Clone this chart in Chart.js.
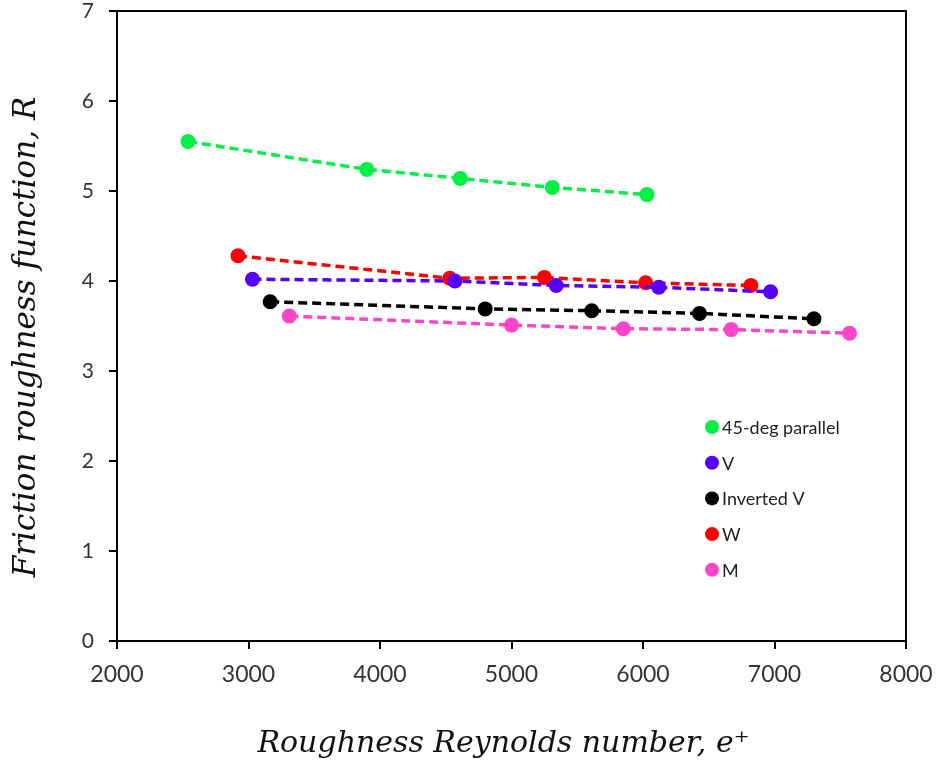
<!DOCTYPE html>
<html>
<head>
<meta charset="utf-8">
<script src="https://cdn.jsdelivr.net/npm/chart.js"></script>
<style>
  html, body { margin: 0; padding: 0; background: #fff; }
  #wrap { width: 937px; height: 765px; }
</style>
</head>
<body>
<div id="wrap"><canvas id="chart" width="937" height="765"></canvas></div>
<script>
// roughness Reynolds number (x) and roughness function (y) for each rib layout
const labels = ['45-deg parallel', 'V', 'Inverted V', 'W', 'M'];
const colors = ['#00F044', '#5500FF', '#000000', '#FF0000', '#FF44CC'];

const parallelX = [2540, 3900, 4610, 5310, 6030];
const parallelY = [5.55, 5.24, 5.14, 5.04, 4.96];
const vX = [3030, 4570, 5340, 6120, 6970];
const vY = [4.02, 4.00, 3.95, 3.93, 3.88];
const invVX = [3165, 4800, 5610, 6430, 7300];
const invVY = [3.77, 3.69, 3.67, 3.64, 3.58];
const wX = [2920, 4530, 5250, 6020, 6820];
const wY = [4.28, 4.03, 4.04, 3.98, 3.95];
const mX = [3310, 5000, 5850, 6670, 7570];
const mY = [3.61, 3.51, 3.47, 3.46, 3.42];

const xTicks = [2000, 3000, 4000, 5000, 6000, 7000, 8000];
const yTicks = [0, 1, 2, 3, 4, 5, 6, 7];

const xTitle = 'Roughness Reynolds number, e\u207A';
const yTitle = 'Friction roughness function, R';

const seriesX = [parallelX, vX, invVX, wX, mX];
const seriesY = [parallelY, vY, invVY, wY, mY];

const toPoints = (xs, ys) => xs.map((x, i) => ({ x: x, y: ys[i] }));

const datasets = labels.map((label, i) => ({
  label: label,
  data: toPoints(seriesX[i], seriesY[i]),
  showLine: true,
  borderColor: colors[i],
  backgroundColor: colors[i],
  borderWidth: 3.5,
  borderDash: [9, 5],
  pointRadius: 7.5,
  pointHoverRadius: 7.5,
  pointBorderWidth: 0,
  fill: false,
  tension: 0
}));

// outline the whole plot area
const frame = {
  id: 'frame',
  afterDatasetsDraw(chart) {
    const a = chart.chartArea;
    const ctx = chart.ctx;
    ctx.save();
    ctx.strokeStyle = '#000';
    ctx.lineWidth = 2;
    ctx.strokeRect(a.left, a.top, a.right - a.left, a.bottom - a.top);
    ctx.restore();
  }
};

// axis titles in italic serif
const axisTitles = {
  id: 'axisTitles',
  afterDraw(chart) {
    const ctx = chart.ctx;
    const a = chart.chartArea;
    ctx.save();
    ctx.fillStyle = '#111';
    ctx.font = 'italic 30px "DejaVu Serif", serif';
    ctx.textAlign = 'center';
    ctx.textBaseline = 'alphabetic';
    ctx.fillText(xTitle, (a.left + a.right) / 2 - 8, 752);

    ctx.font = 'italic 31px "DejaVu Serif", serif';
    ctx.translate(35, (a.top + a.bottom) / 2 + 11);
    ctx.rotate(-Math.PI / 2);
    ctx.fillText(yTitle, 0, 0);
    ctx.restore();
  }
};

// legend sitting inside the plot, lower right
const innerLegend = {
  id: 'innerLegend',
  afterDraw(chart) {
    const ctx = chart.ctx;
    const a = chart.chartArea;
    const x0 = a.left + 595;
    let y = a.top + 416;
    ctx.save();
    ctx.font = '18px Lato, "Open Sans", sans-serif';
    ctx.textBaseline = 'middle';
    ctx.textAlign = 'left';
    chart.data.datasets.forEach(ds => {
      ctx.fillStyle = ds.backgroundColor;
      ctx.beginPath();
      ctx.arc(x0, y, 7, 0, Math.PI * 2);
      ctx.fill();
      ctx.fillStyle = '#222';
      ctx.fillText(ds.label, x0 + 10, y + 1);
      y += 35.7;
    });
    ctx.restore();
  }
};

new Chart(document.getElementById('chart'), {
  type: 'scatter',
  data: { datasets: datasets },
  plugins: [frame, axisTitles, innerLegend],
  options: {
    responsive: false,
    animation: false,
    layout: { padding: { top: 11, right: 31, left: 0, bottom: 0 } },
    plugins: {
      legend: { display: false },
      tooltip: { enabled: false }
    },
    scales: {
      x: {
        type: 'linear',
        min: 2000,
        max: 8000,
        afterBuildTicks: axis => { axis.ticks = xTicks.map(v => ({ value: v })); },
        afterFit: axis => { axis.height = 124; axis.paddingLeft = 0; axis.paddingRight = 0; },
        border: { display: true, color: '#000', width: 2 },
        grid: { display: true, drawOnChartArea: false, drawTicks: true, tickLength: 8, color: '#000', lineWidth: 2 },
        ticks: { color: '#333', font: { family: 'Lato', size: 23 }, padding: 12, maxRotation: 0, callback: v => String(v) },
        title: { display: false }
      },
      y: {
        type: 'linear',
        min: 0,
        max: 7,
        afterBuildTicks: axis => { axis.ticks = yTicks.map(v => ({ value: v })); },
        afterFit: axis => { axis.width = 117; axis.paddingTop = 0; axis.paddingBottom = 0; },
        border: { display: true, color: '#000', width: 2 },
        grid: { display: true, drawOnChartArea: false, drawTicks: true, tickLength: 8, color: '#000', lineWidth: 2 },
        ticks: { color: '#333', font: { family: 'Lato', size: 21 }, padding: 15 },
        title: { display: false }
      }
    }
  }
});
</script>
</body>
</html>
